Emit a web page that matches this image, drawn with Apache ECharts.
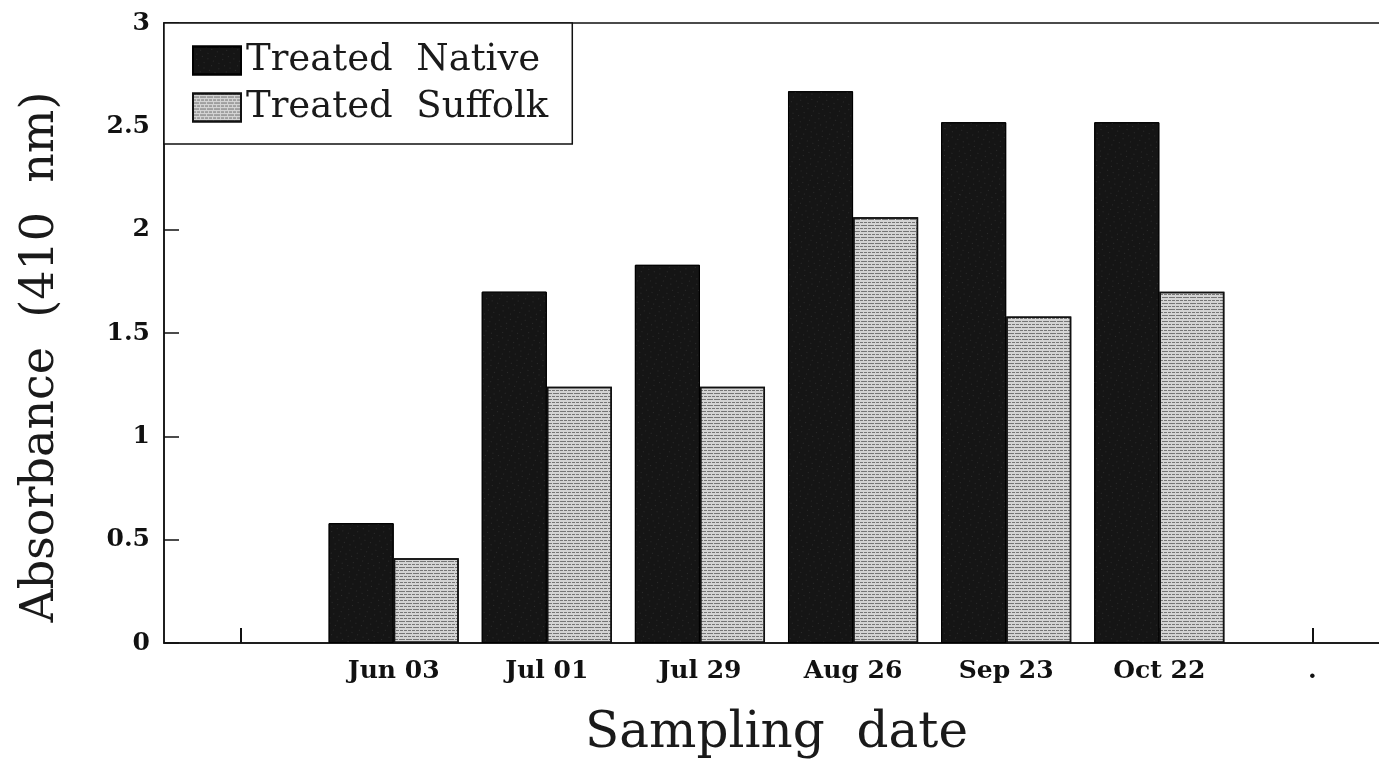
<!DOCTYPE html>
<html>
<head>
<meta charset="utf-8">
<style>html,body{margin:0;padding:0;background:#fff;}#chart{width:1379px;height:760px;}</style>
<script src="https://cdn.jsdelivr.net/npm/echarts@6/dist/echarts.min.js"></script>
</head>
<body>
<div id="chart"></div>
<script>
const categories = ['', 'Jun 03', 'Jul 01', 'Jul 29', 'Aug 26', 'Sep 23', 'Oct 22', '.'];
const treatedNative = [null, 0.58, 1.70, 1.83, 2.67, 2.52, 2.52, null];
const treatedSuffolk = [null, 0.41, 1.24, 1.24, 2.06, 1.58, 1.70, null];
const yTicks = [0, 0.5, 1, 1.5, 2, 2.5, 3];

const chart = echarts.init(document.getElementById('chart'), null, {renderer: 'canvas'});
const serif = '"DejaVu Serif", serif';

chart.setOption({
  animation: false,
  backgroundColor: '#fff',
  grid: {left: 164, top: 23, right: -10, bottom: 117, outerBoundsMode: 'none', containLabel: false,
    show: true, borderColor: '#111', borderWidth: 1.5, backgroundColor: 'transparent'},
  legend: {
    orient: 'vertical', left: 164, top: 23,
    itemWidth: 48, itemHeight: 28, itemGap: 10,
    padding: [19, 24, 18, 28],
    borderColor: '#111', borderWidth: 1.5, backgroundColor: '#fff',
    textStyle: {fontFamily: serif, fontSize: 37, lineHeight: 36, color: '#1a1a1a'},
    icon: 'rect',
    data: ['Treated  Native', 'Treated  Suffolk']
  },
  xAxis: {
    type: 'category', data: categories,
    axisLine: {lineStyle: {color: '#111', width: 1.5}},
    axisTick: {show: true, interval: 0, inside: true, alignWithLabel: true, length: 15, lineStyle: {color: '#111', width: 2}},
    axisLabel: {interval: 0, margin: 16, fontFamily: serif, fontWeight: 'bold', fontSize: 25, color: '#111'},
    name: 'Sampling  date', nameLocation: 'middle', nameGap: 66,
    nameTextStyle: {fontFamily: serif, fontSize: 50, color: '#1a1a1a'}
  },
  yAxis: {
    type: 'value', min: 0, max: 3, interval: 0.5,
    splitLine: {show: false},
    axisLine: {show: true, lineStyle: {color: '#111', width: 1.5}},
    axisTick: {show: true, inside: true, length: 15, lineStyle: {color: '#111', width: 1.5}},
    axisLabel: {margin: 14, fontFamily: serif, fontWeight: 'bold', fontSize: 25, color: '#111',
      formatter: v => yTicks.includes(v) ? String(v) : ''},
    name: 'Absorbance  (410  nm)', nameLocation: 'middle', nameGap: 100,
    nameTextStyle: {fontFamily: serif, fontSize: 46, color: '#1a1a1a', padding: [0, 48, 0, 0]}
  },
  series: [
    {
      name: 'Treated  Native', type: 'bar', data: treatedNative,
      barGap: '0%', barCategoryGap: '15%',
      itemStyle: {color: '#151515', borderColor: '#000', borderWidth: 1,
        decal: {symbol: 'rect', symbolSize: 0.5, dashArrayX: [[1, 5], [1, 7]], dashArrayY: [1, 4], rotation: 0.4, color: 'rgba(255,255,255,0.4)'}}
    },
    {
      name: 'Treated  Suffolk', type: 'bar', data: treatedSuffolk,
      itemStyle: {color: '#d4d4d4', borderColor: '#111', borderWidth: 1.5,
        decal: {symbol: 'rect', symbolSize: 1, dashArrayX: [[6, 1], [3, 1]], dashArrayY: [1, 2], rotation: 0, color: 'rgba(40,40,40,0.55)'}}
    }
  ]
});
</script>
</body>
</html>
